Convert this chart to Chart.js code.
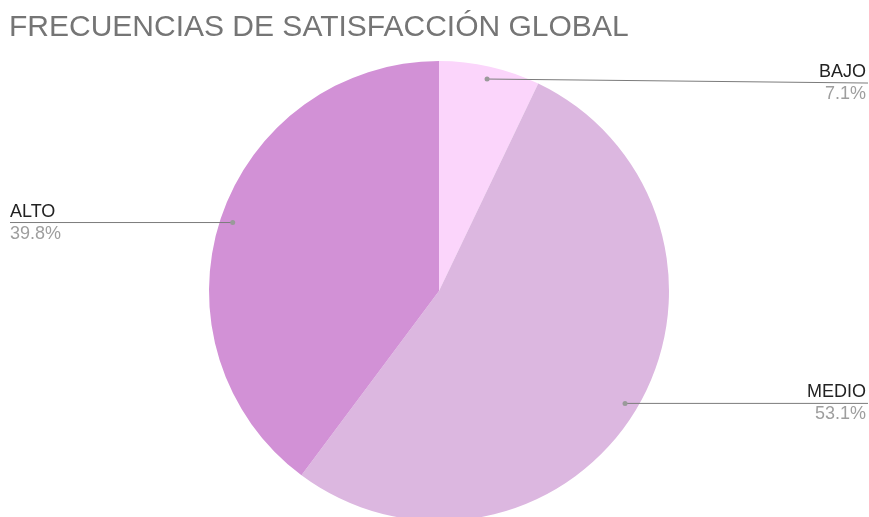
<!DOCTYPE html>
<html>
<head>
<meta charset="utf-8">
<script src="https://cdn.jsdelivr.net/npm/chart.js@4"></script>
<style>
  html, body { margin: 0; padding: 0; background: #fff; overflow: hidden; height: 517px; }
  #wrap { width: 869px; height: 521px; }
</style>
</head>
<body>
<div id="wrap"><canvas id="satisfaccion"></canvas></div>
<script>
const categorias = ["BAJO", "MEDIO", "ALTO"];
const porcentajes = [7.1, 53.1, 39.8];
const colores = ["#fbd5fb", "#dcb7e0", "#d291d6"];
const titulo = "FRECUENCIAS DE SATISFACCIÓN GLOBAL";

// title + leader lines like the spreadsheet chart
const etiquetasPlugin = {
  id: "etiquetas",
  afterDraw(chart) {
    const ctx = chart.ctx;
    const w = chart.width;
    ctx.save();
    ctx.font = "30px 'Liberation Sans', Arial, sans-serif";
    ctx.fillStyle = "#757575";
    ctx.textAlign = "left";
    ctx.textBaseline = "alphabetic";
    ctx.fillText(titulo, 9, 36);

    const arcs = chart.getDatasetMeta(0).data;
    arcs.forEach((arc, i) => {
      const mid = (arc.startAngle + arc.endAngle) / 2;
      const r = arc.outerRadius * 0.945;
      const x = arc.x + Math.cos(mid) * r;
      const y = arc.y + Math.sin(mid) * r;
      const derecha = x > arc.x;
      const xFin = derecha ? w - 1 : 10;
      // top label is pushed down a little, as in the original
      const yFin = y < arc.y - arc.outerRadius * 0.8 ? y + 4 : y;

      ctx.strokeStyle = "#7b7b7b";
      ctx.lineWidth = 1;
      ctx.beginPath();
      ctx.moveTo(x, y);
      ctx.lineTo(xFin, yFin);
      ctx.stroke();

      ctx.fillStyle = "#9a9a9a";
      ctx.beginPath();
      ctx.arc(x, y, 2.5, 0, Math.PI * 2);
      ctx.fill();

      ctx.textAlign = derecha ? "right" : "left";
      const xt = derecha ? w - 3 : 10;
      ctx.font = "18px 'Liberation Sans', Arial, sans-serif";
      ctx.fillStyle = "#222222";
      ctx.fillText(categorias[i], xt, yFin - 6);
      ctx.fillStyle = "#9e9e9e";
      ctx.fillText(porcentajes[i].toFixed(1) + "%", xt, yFin + 16);
    });
    ctx.restore();
  }
};

new Chart(document.getElementById("satisfaccion"), {
  type: "pie",
  data: {
    labels: categorias,
    datasets: [{
      data: porcentajes,
      backgroundColor: colores,
      borderWidth: 0
    }]
  },
  options: {
    responsive: true,
    maintainAspectRatio: false,
    animation: false,
    layout: { padding: { top: 61, bottom: 0, left: 9, right: 0 } },
    plugins: {
      legend: { display: false },
      tooltip: { enabled: false }
    }
  },
  plugins: [etiquetasPlugin]
});
</script>
</body>
</html>
